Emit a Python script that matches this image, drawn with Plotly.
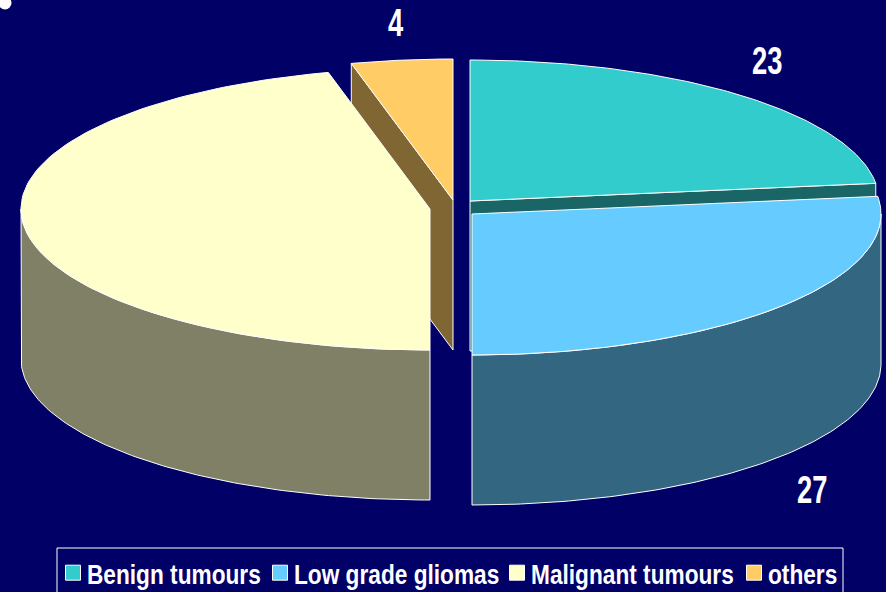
import numpy as np
import plotly.graph_objects as go

categories = ["Benign tumours", "Low grade gliomas", "Malignant tumours", "others"]
values = [23, 27, 46, 4]
shown_labels = ["23", "27", None, "4"]

top_colors = ["#33CCCC", "#66CCFF", "#FFFFCC", "#FFCC66"]
wall_colors = ["#1A6666", "#336680", "#808066", "#806633"]
BG = "#000066"
FONT = "Liberation Sans"

W, H = 886, 592
RX, RY, DEPTH = 409, 141, 150
centers = [(470, 201), (472, 214), (430, 209), (453, 200)]
label_pos = [(767, 61), (812, 490), None, (395, 23)]
legend_left = [53, 260, 497, 734]
LEGEND_BOX = (57, 548, 843, 604)

total = sum(values)
edges = np.cumsum([0] + values) / total * 2 * np.pi


def point(c, a, dz=0):
    return c[0] + RX * np.sin(a), c[1] - RY * np.cos(a) + dz


def arc(c, a0, a1, dz=0, n=120):
    t = np.linspace(a0, a1, n)
    return point(c, t, dz)


def poly(x, y, color):
    return go.Scatter(
        x=list(x) + [x[0]], y=list(y) + [y[0]], mode="lines", fill="toself",
        fillcolor=color, line=dict(color="white", width=1),
        hoverinfo="skip", showlegend=False,
    )


fig = go.Figure()


def radial_wall(i, a):
    c = centers[i]
    px, py = point(c, a)
    fig.add_trace(poly([c[0], px, px, c[0]], [c[1], py, py + DEPTH, c[1] + DEPTH], wall_colors[i]))


def outer_wall(i, a0, a1):
    c = centers[i]
    x0, y0 = arc(c, a0, a1)
    x1, y1 = arc(c, a1, a0, DEPTH)
    fig.add_trace(poly(np.r_[x0, x1], np.r_[y0, y1], wall_colors[i]))


def top(i):
    c = centers[i]
    x, y = arc(c, edges[i], edges[i + 1])
    fig.add_trace(poly(np.r_[c[0], x], np.r_[c[1], y], top_colors[i]))


# painter's order: back slices first, then the front ones
radial_wall(3, edges[3])
top(3)
radial_wall(0, edges[1])
top(0)
outer_wall(1, np.pi / 2, edges[2])
top(1)
outer_wall(2, edges[2], 1.5 * np.pi)
top(2)

# legend entries: one small legend per entry so each can sit at its own position
legend_layout = {}
for i, (name, color) in enumerate(zip(categories, top_colors)):
    key = "legend" if i == 0 else f"legend{i + 1}"
    fig.add_trace(go.Scatter(
        x=[None], y=[None], mode="markers", name=name, legend=key, showlegend=True,
        marker=dict(symbol="square", size=15, color=color, line=dict(color="white", width=1)),
    ))
    legend_layout[key] = dict(
        x=legend_left[i] / W, xanchor="left", y=0, yanchor="bottom",
        bgcolor="rgba(0,0,0,0)", borderwidth=0, itemwidth=30,
        font=dict(family=FONT, size=28, color="white", weight="bold"),
    )

# bullet remnant in the top-left corner
fig.add_trace(go.Scatter(x=[5], y=[3], mode="markers", showlegend=False, hoverinfo="skip",
                         marker=dict(size=13, color="white")))

annotations = [
    dict(x=p[0], y=p[1], text=t, showarrow=False, xref="x", yref="y",
         font=dict(family=FONT, size=38, color="white", weight="bold"))
    for t, p in zip(shown_labels, label_pos) if t is not None
]

fig.update_layout(
    width=W, height=H, autosize=False,
    margin=dict(l=0, r=0, t=0, b=0),
    paper_bgcolor=BG, plot_bgcolor=BG,
    xaxis=dict(range=[0, W], visible=False, fixedrange=True),
    yaxis=dict(range=[H, 0], visible=False, fixedrange=True),
    annotations=annotations,
    shapes=[dict(type="rect", xref="x", yref="y", x0=LEGEND_BOX[0], y0=LEGEND_BOX[1],
                 x1=LEGEND_BOX[2], y1=LEGEND_BOX[3], line=dict(color="white", width=1))],
    **legend_layout,
)

# the reference face is a condensed bold: squeeze the real text elements horizontally,
# and drop the legend rows to the reference baseline (plotly would otherwise push the margin)
post = """
document.documentElement.style.margin='0';
document.body.style.margin='0';
document.body.style.overflow='hidden';
function squeeze(sel, r, dx){
  document.querySelectorAll(sel).forEach(function(t){
    var x = parseFloat(t.getAttribute('x')||0);
    var old = t.getAttribute('transform')||'';
    t.setAttribute('transform', old+' translate('+(x+dx)+',0) scale('+r+',1) translate('+(-x)+',0)');
  });
}
squeeze('text.legendtext, text.legend2text, text.legend3text, text.legend4text', 0.81, -6);
squeeze('text.annotation-text', 0.72, 0);
document.querySelectorAll('g.legend, g.legend2, g.legend3, g.legend4').forEach(function(g){
  var m = /translate\\(([-\\d.]+),\\s*([-\\d.]+)\\)/.exec(g.getAttribute('transform')||'');
  if(m){ g.setAttribute('transform','translate('+m[1]+','+(parseFloat(m[2])+6)+')'); }
});
"""
fig.write_html("out.html", config=dict(displayModeBar=False), post_script=post)
